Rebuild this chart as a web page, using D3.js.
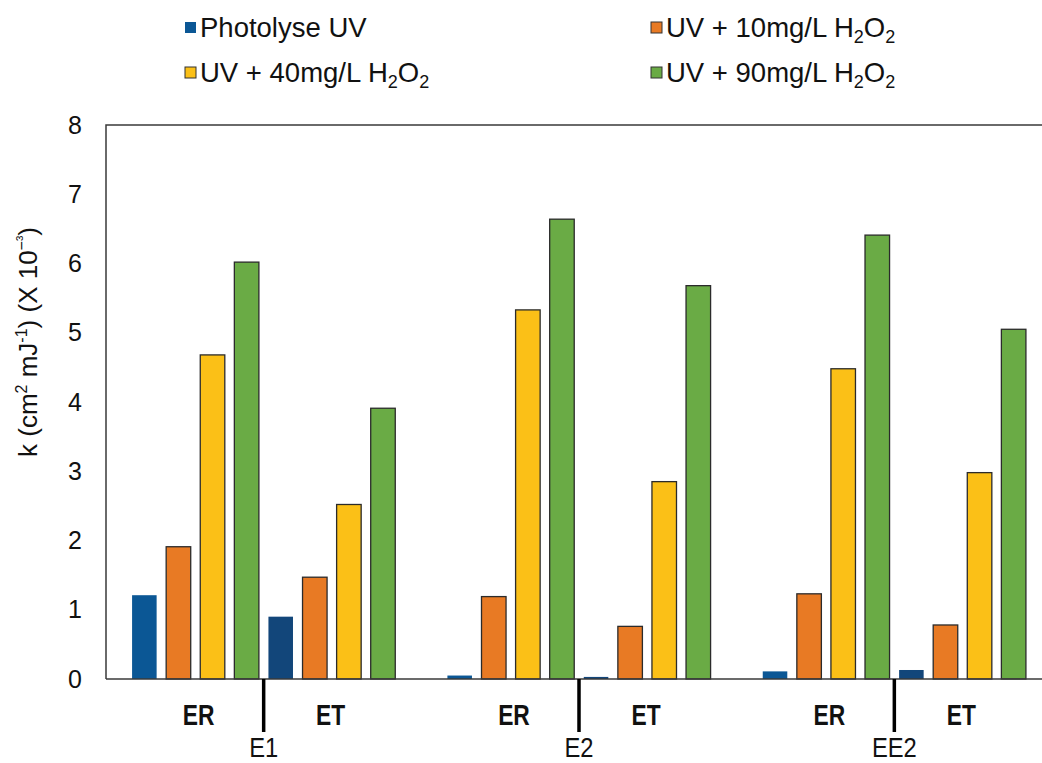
<!DOCTYPE html>
<html><head><meta charset="utf-8">
<script src="https://cdn.jsdelivr.net/npm/d3@7"></script>
<style>body{margin:0;background:#fff}svg{display:block}</style>
</head><body><svg id="c" width="1042" height="763"></svg>
<script>
const categories = ["E1", "E2", "EE2"];
const subLabels = ["ER", "ET"];
const seriesKeys = ["phER","uv10ER","uv40ER","uv90ER","phET","uv10ET","uv40ET","uv90ET"];
const photolyseER = [1.21, 0.05, 0.11];
const uv10ER      = [1.91, 1.19, 1.23];
const uv40ER      = [4.68, 5.33, 4.48];
const uv90ER      = [6.02, 6.64, 6.41];
const photolyseET = [0.90, 0.03, 0.13];
const uv10ET      = [1.47, 0.76, 0.78];
const uv40ET      = [2.52, 2.85, 2.98];
const uv90ET      = [3.91, 5.68, 5.05];
const yTicks = [0,1,2,3,4,5,6,7,8];
const legendItems = [
  {key:"ph", parts:[["Photolyse UV",0]]},
  {key:"uv10", parts:[["UV + 10mg/L H",0],["2",1],["O",0],["2",1]]},
  {key:"uv40", parts:[["UV + 40mg/L H",0],["2",1],["O",0],["2",1]]},
  {key:"uv90", parts:[["UV + 90mg/L H",0],["2",1],["O",0],["2",1]]}
];

const seriesValues = {phER:photolyseER, uv10ER, uv40ER, uv90ER, phET:photolyseET, uv10ET, uv40ET, uv90ET};
const fillOf = {phER:"#0B5795", phET:"#12467A", uv10ER:"#E87A24", uv10ET:"#E87A24", uv40ER:"#FBC017", uv40ET:"#FBC017", uv90ER:"#6AAB45", uv90ET:"#6AAB45"};
const legendColor = {ph:"#0B5795", uv10:"#E87A24", uv40:"#FBC017", uv90:"#6AAB45"};

const svg = d3.select("#c");
const font = "'Liberation Sans', Arial, sans-serif";
const pLeft = 106, pTop = 125, pBottom = 679, pRight = 1052;

const x = d3.scaleBand().domain(categories).range([pLeft, pRight]).padding(0);
const xs = d3.scaleBand().domain(seriesKeys).range([0, x.bandwidth()]).paddingInner(0.28).paddingOuter(0.765);
const y = d3.scaleLinear().domain([0, 8]).range([pBottom, pTop]);

// frame
svg.append("path").attr("d", `M${pLeft},${pBottom} V${pTop} H${pRight}`)
  .attr("fill","none").attr("stroke","#3a3a3a").attr("stroke-width",1.5);

// bars
const data = [];
categories.forEach((c, ci) => seriesKeys.forEach(k => data.push({c, k, v: seriesValues[k][ci]})));
svg.append("g").selectAll("rect").data(data).join("rect")
  .attr("x", d => x(d.c) + xs(d.k))
  .attr("y", d => y(d.v))
  .attr("width", xs.bandwidth())
  .attr("height", d => y(0) - y(d.v))
  .attr("fill", d => fillOf[d.k])
  .attr("stroke", d => d.k.startsWith("ph") ? "none" : "#2b2b2b")
  .attr("stroke-width", 1.3);

// x axis line
svg.append("line").attr("x1", pLeft).attr("x2", pRight).attr("y1", pBottom).attr("y2", pBottom)
  .attr("stroke","#3a3a3a").attr("stroke-width",1.5);

// y axis
const yAxis = d3.axisLeft(y).tickValues(yTicks).tickSize(0).tickPadding(0).tickFormat(d3.format("d"));
const gy = svg.append("g").attr("transform", `translate(82,0)`).call(yAxis);
gy.select(".domain").remove();
gy.selectAll("text").attr("font-family", font).attr("font-size", 25).attr("fill", "#111");

// y label
const yl = svg.append("text").attr("transform", "translate(37,342) rotate(-90)")
  .attr("text-anchor","middle").attr("font-family", font).attr("font-size", 26).attr("fill","#111");
const ylParts = [["k (cm",0],["2",1],[" mJ",0],["-1",1],[") (X 10",0],["\u2212\u00B3",1],[")",0]];
ylParts.forEach((p, i) => {
  const t = yl.append("tspan").text(p[0]);
  if (p[1] === 1) t.attr("font-size", 16).attr("dy", -10);
  else if (i > 0) t.attr("dy", 10);
});

// category labels + dividers + ER/ET
const gx = svg.append("g");
categories.forEach(c => {
  const cx = x(c) + x.bandwidth() / 2;
  gx.append("line").attr("x1", cx).attr("x2", cx).attr("y1", pBottom).attr("y2", 732)
    .attr("stroke", "#000").attr("stroke-width", 3.5);
  gx.append("text").attr("transform", `translate(${cx},757) scale(0.88,1)`).attr("text-anchor","middle")
    .attr("font-family", font).attr("font-size", 27).attr("fill","#111").text(c);
  gx.append("text").attr("transform", `translate(${cx - 65},725) scale(0.76,1)`).attr("text-anchor","middle")
    .attr("font-family", font).attr("font-weight","bold").attr("font-size", 30).attr("fill","#111").text(subLabels[0]);
  gx.append("text").attr("transform", `translate(${cx + 67},725) scale(0.76,1)`).attr("text-anchor","middle")
    .attr("font-family", font).attr("font-weight","bold").attr("font-size", 30).attr("fill","#111").text(subLabels[1]);
});

// legend
const legPos = [[185, 28], [651, 28], [185, 73], [651, 73]];
legendItems.forEach((it, i) => {
  const [lx, ly] = legPos[i];
  const g = svg.append("g").attr("transform", `translate(${lx},${ly})`);
  g.append("rect").attr("x", 0).attr("y", -6).attr("width", 11).attr("height", 11)
    .attr("fill", legendColor[it.key]).attr("stroke", it.key === "ph" ? "none" : "#333").attr("stroke-width", 1);
  const t = g.append("text").attr("x", 15).attr("y", 9).attr("font-family", font).attr("font-size", 27.5).attr("fill","#111");
  it.parts.forEach((p, j) => {
    const s = t.append("tspan").text(p[0]);
    if (p[1] === 1) s.attr("font-size", 18).attr("dy", 6);
    else if (j > 0) s.attr("dy", -6);
  });
});
</script></body></html>
